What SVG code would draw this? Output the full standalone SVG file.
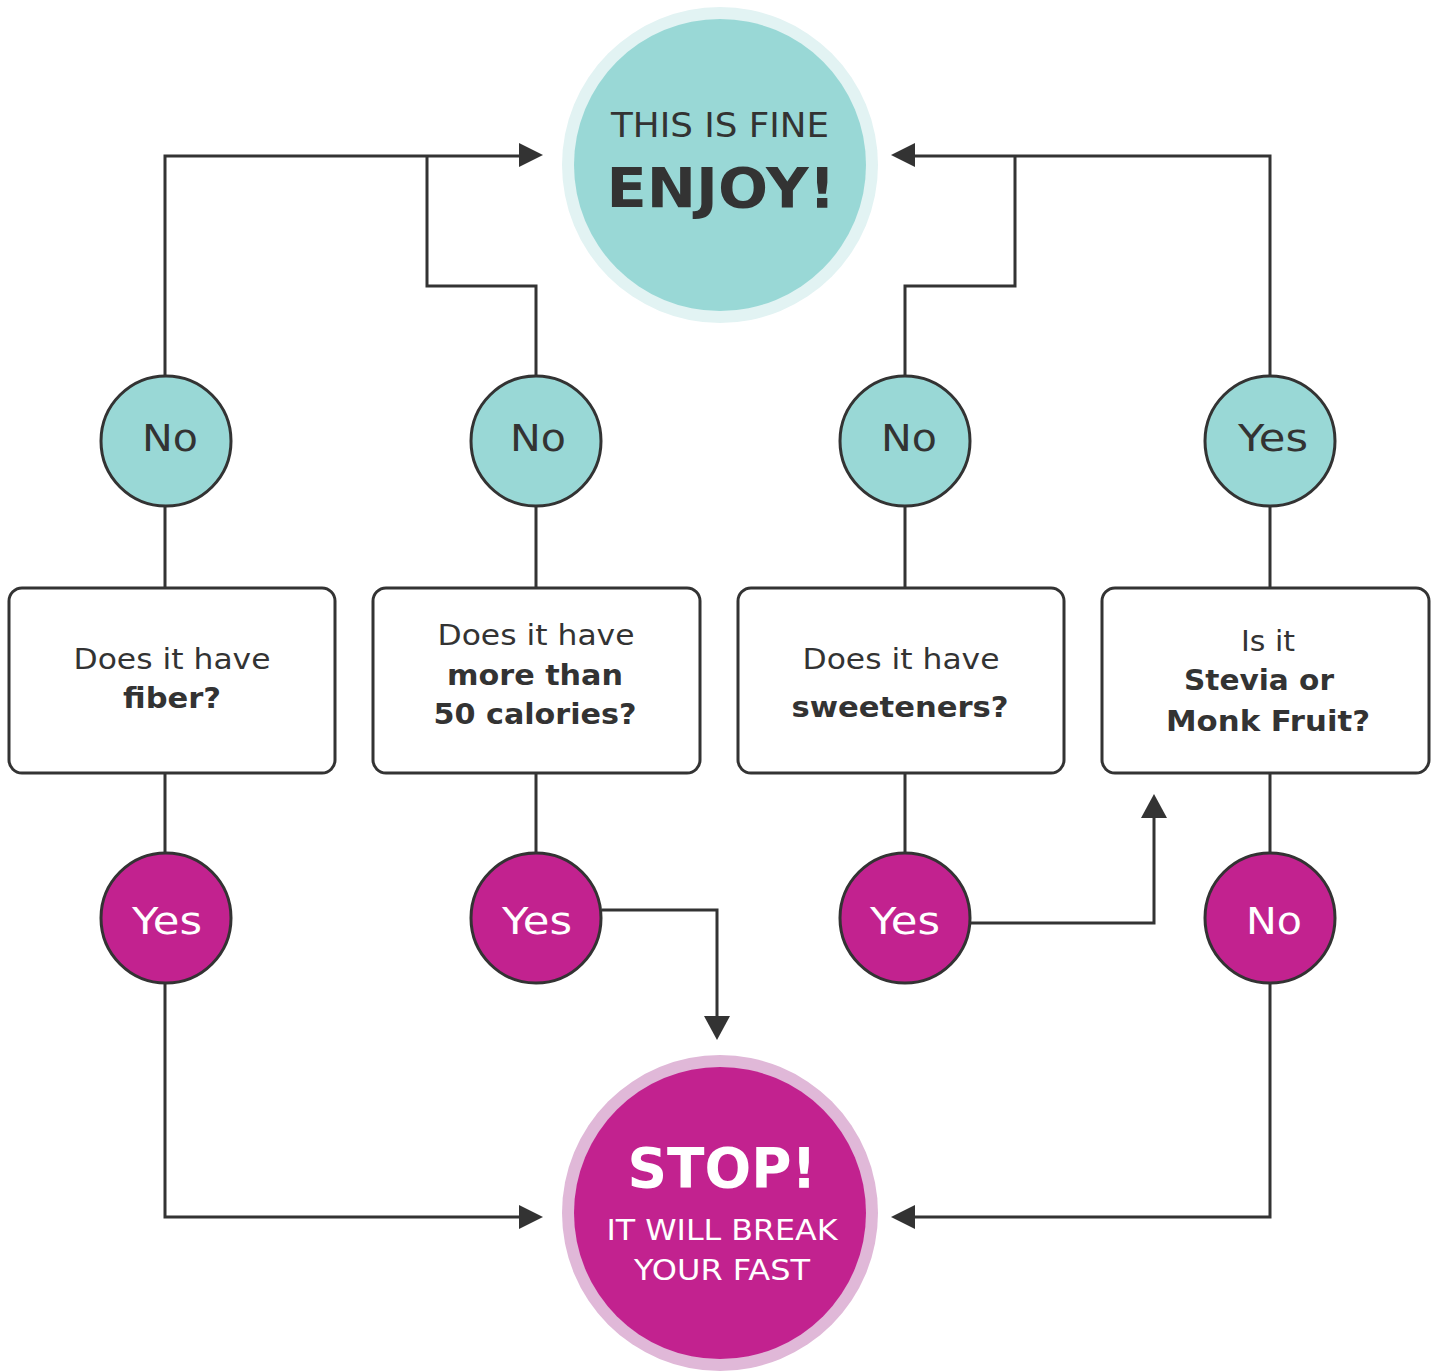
<svg xmlns="http://www.w3.org/2000/svg" width="1437" height="1372" viewBox="0 0 1437 1372">
<style>
.t{font-family:"DejaVu Sans","Open Sans","Liberation Sans",sans-serif;fill:#333;text-anchor:middle}
.b{font-weight:700}
.w{fill:#fff}
.ln{fill:none;stroke:#333;stroke-width:3}
.tc{fill:#99d8d6;stroke:#333;stroke-width:3}
.mc{fill:#c2228f;stroke:#333;stroke-width:3}
.box{fill:#fff;stroke:#333;stroke-width:3}
.ah{fill:#333}
</style>
<rect width="1437" height="1372" fill="#fff"/>
<g id="connectors">
<path class="ln" d="M165 376V156H522"/>
<path class="ln" d="M536 376V286H427V156"/>
<path class="ln" d="M905 376V286H1015V156"/>
<path class="ln" d="M1270 376V156H913"/>
<path class="ln" d="M165 506V588M536 506V588M905 506V588M1270 506V588"/>
<path class="ln" d="M165 773V853M536 773V853M905 773V853M1270 773V853"/>
<path class="ln" d="M165 984V1217H522"/>
<path class="ln" d="M1270 984V1217H913"/>
<path class="ln" d="M602 910H717V1018"/>
<path class="ln" d="M970 923H1154V816"/>
<polygon class="ah" points="543,155 519,143 519,167"/>
<polygon class="ah" points="891,155 915,143 915,167"/>
<polygon class="ah" points="543,1217 519,1205 519,1229"/>
<polygon class="ah" points="891,1217 915,1205 915,1229"/>
<polygon class="ah" points="717,1040 704,1016 730,1016"/>
<polygon class="ah" points="1154,794 1141,818 1167,818"/>
</g>
<g id="fine">
<circle cx="720" cy="165" r="158" fill="#e2f3f3"/>
<circle cx="720" cy="165" r="146" fill="#99d8d6"/>
<text class="t" x="720" y="137" font-size="33" textLength="218" lengthAdjust="spacingAndGlyphs">THIS IS FINE</text>
<text class="t b" x="721" y="207" font-size="56" textLength="229" lengthAdjust="spacingAndGlyphs">ENJOY!</text>
</g>
<g id="stop">
<circle cx="720" cy="1213" r="158" fill="#e0b8d8"/>
<circle cx="720" cy="1213" r="146" fill="#c2228f"/>
<text class="t b w" x="722" y="1187" font-size="56" textLength="189" lengthAdjust="spacingAndGlyphs">STOP!</text>
<text class="t w" x="722" y="1240" font-size="29" textLength="231" lengthAdjust="spacingAndGlyphs">IT WILL BREAK</text>
<text class="t w" x="722" y="1280" font-size="29" textLength="176" lengthAdjust="spacingAndGlyphs">YOUR FAST</text>
</g>
<g id="no1"><circle class="tc" cx="166" cy="441" r="65"/><text class="t" x="170" y="451" font-size="38" textLength="56" lengthAdjust="spacingAndGlyphs">No</text></g>
<g id="no2"><circle class="tc" cx="536" cy="441" r="65"/><text class="t" x="538" y="451" font-size="38" textLength="56" lengthAdjust="spacingAndGlyphs">No</text></g>
<g id="no3"><circle class="tc" cx="905" cy="441" r="65"/><text class="t" x="909" y="451" font-size="38" textLength="56" lengthAdjust="spacingAndGlyphs">No</text></g>
<g id="yes4"><circle class="tc" cx="1270" cy="441" r="65"/><text class="t" x="1273" y="451" font-size="38" textLength="70" lengthAdjust="spacingAndGlyphs">Yes</text></g>
<g id="q1"><rect class="box" x="9" y="588" width="326" height="185" rx="13"/>
<text class="t" x="172" y="669" font-size="29" textLength="197" lengthAdjust="spacingAndGlyphs">Does it have</text>
<text class="t b" x="172" y="708" font-size="29" textLength="98" lengthAdjust="spacingAndGlyphs">fiber?</text></g>
<g id="q2"><rect class="box" x="373" y="588" width="327" height="185" rx="13"/>
<text class="t" x="536" y="645" font-size="29" textLength="197" lengthAdjust="spacingAndGlyphs">Does it have</text>
<text class="t b" x="535" y="685" font-size="29" textLength="176" lengthAdjust="spacingAndGlyphs">more than</text>
<text class="t b" x="535" y="724" font-size="29" textLength="203" lengthAdjust="spacingAndGlyphs">50 calories?</text></g>
<g id="q3"><rect class="box" x="738" y="588" width="326" height="185" rx="13"/>
<text class="t" x="901" y="669" font-size="29" textLength="197" lengthAdjust="spacingAndGlyphs">Does it have</text>
<text class="t b" x="900" y="717" font-size="29" textLength="217" lengthAdjust="spacingAndGlyphs">sweeteners?</text></g>
<g id="q4"><rect class="box" x="1102" y="588" width="327" height="185" rx="13"/>
<text class="t" x="1268" y="651" font-size="29" textLength="54" lengthAdjust="spacingAndGlyphs">Is it</text>
<text class="t b" x="1259" y="690" font-size="29" textLength="150" lengthAdjust="spacingAndGlyphs">Stevia or</text>
<text class="t b" x="1268" y="731" font-size="29" textLength="204" lengthAdjust="spacingAndGlyphs">Monk Fruit?</text></g>
<g id="yes1"><circle class="mc" cx="166" cy="918" r="65"/><text class="t w" x="167" y="934" font-size="38" textLength="70" lengthAdjust="spacingAndGlyphs">Yes</text></g>
<g id="yes2"><circle class="mc" cx="536" cy="918" r="65"/><text class="t w" x="537" y="934" font-size="38" textLength="70" lengthAdjust="spacingAndGlyphs">Yes</text></g>
<g id="yes3"><circle class="mc" cx="905" cy="918" r="65"/><text class="t w" x="905" y="934" font-size="38" textLength="70" lengthAdjust="spacingAndGlyphs">Yes</text></g>
<g id="no4"><circle class="mc" cx="1270" cy="918" r="65"/><text class="t w" x="1274" y="934" font-size="38" textLength="56" lengthAdjust="spacingAndGlyphs">No</text></g>
</svg>
